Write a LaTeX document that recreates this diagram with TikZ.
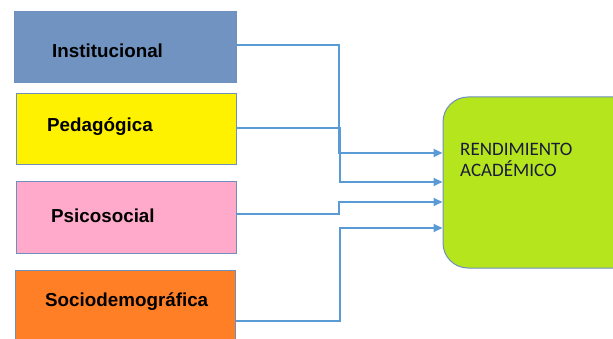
\documentclass[tikz,border=0pt]{standalone}
\usepackage{fontspec}
\setmainfont{Liberation Sans}
\newfontfamily\calib{Carlito}
\usetikzlibrary{arrows.meta}
\definecolor{bordc}{HTML}{6F8FBF}
\definecolor{fblue}{HTML}{7093C1}
\definecolor{fyel}{HTML}{FFF200}
\definecolor{fpink}{HTML}{FFAACA}
\definecolor{forange}{HTML}{FF7F27}
\definecolor{fgreen}{HTML}{B5E61D}
\definecolor{linec}{HTML}{5B9BD5}
\definecolor{txtdark}{HTML}{1A1A3A}
\tikzset{
  catbox/.style={draw=bordc, line width=1pt, minimum width=#1, inner sep=0pt},
  cattext/.style={anchor=base west, font=\fontsize{18.8}{20}\selectfont\bfseries, text=black, inner sep=0pt},
  conn/.style={draw=linec, line width=2.5pt, -{Triangle[length=9pt,width=8pt]}},
}
\begin{document}
\begin{tikzpicture}[x=1pt,y=-1pt]
\useasboundingbox (0,0) rectangle (613,339);
\clip (0,0) rectangle (613,339);
\fill[white] (0,0) rectangle (613,339);
\node[catbox=222pt, minimum height=71pt, fill=fblue] (b1) at (125,47.5) {};
\node[catbox=220pt, minimum height=71pt, fill=fyel] (b2) at (126,129.5) {};
\node[catbox=220pt, minimum height=71pt, fill=fpink] (b3) at (126,217.5) {};
\node[catbox=220pt, minimum height=102pt, fill=forange] (b4) at (125,321) {};
\node[cattext] (t1) at (52,58) {Institucional};
\node[cattext] (t2) at (47,131.5) {Pedagógica};
\node[cattext] (t3) at (51,222.5) {Psicosocial};
\node[cattext] (t4) at (45,306.5) {Sociodemográfica};
\node[draw=bordc, line width=1pt, fill=fgreen, rounded corners=25pt, minimum width=207pt, minimum height=171pt, inner sep=0pt] (rend) at (546.5,182.5) {};
\node[anchor=base west, inner sep=0pt, align=left, font=\calib\fontsize{19}{21.5}\selectfont, text=txtdark] (rt) at (460,177) {RENDIMIENTO\\ACADÉMICO};
\draw[conn] (b1.east |- 0,45) -- (339,45) |- (rend.west |- 0,153);
\draw[conn] (b2.east |- 0,128) -- (340,128) |- (rend.west |- 0,182);
\draw[conn] (b3.east |- 0,214) -- (339,214) |- (rend.west |- 0,202);
\draw[conn] (b4.east |- 0,321) -- (340,321) |- (rend.west |- 0,228);
\end{tikzpicture}
\end{document}
